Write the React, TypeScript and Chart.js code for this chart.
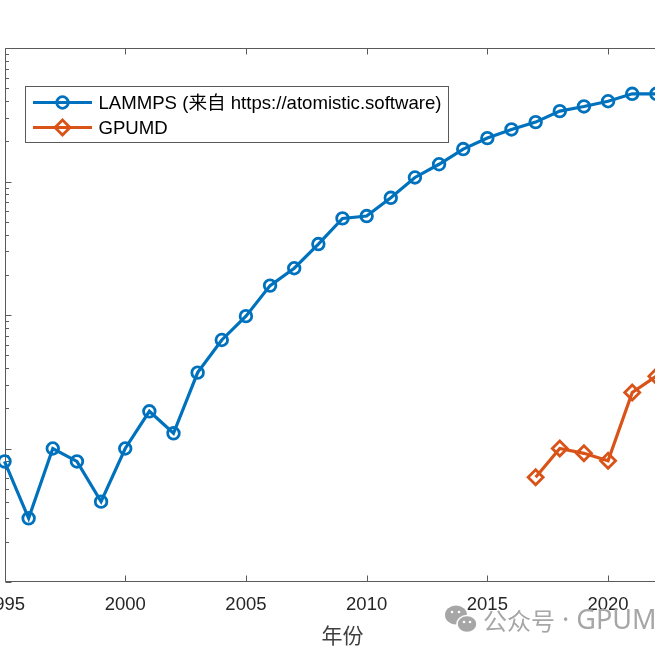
import React, { useEffect, useRef } from "react";
import { Chart, registerables } from "chart.js";

Chart.register(...registerables);

const years = [
  1995, 1996, 1997, 1998, 1999, 2000, 2001, 2002, 2003, 2004, 2005, 2006, 2007, 2008,
  2009, 2010, 2011, 2012, 2013, 2014, 2015, 2016, 2017, 2018, 2019, 2020, 2021, 2022,
];
const lammps = [
  8, 3, 10, 8, 4, 10, 19, 13, 37, 65, 98, 166, 224, 340,
  529, 551, 755, 1072, 1346, 1750, 2114, 2455, 2785, 3366, 3648, 3993, 4537, 4537,
];
const gpumdYears = [2017, 2018, 2019, 2020, 2021, 2022];
const gpumd = [6.1, 10, 9.2, 8.1, 26.3, 34.8];

const xTickValues = [1995, 2000, 2005, 2010, 2015, 2020];
const xMin = 1995;
const xMax = 2023;
const yMin = 1;
const yMax = 10000;

const seriesLabels = ["LAMMPS (来自 https://atomistic.software)", "GPUMD"];
const xTitle = "年份";
const watermarkCJK = "公众号";
const watermarkLatin = " · GPUMD";

const BLUE = "#0072BD";
const ORANGE = "#D95319";
const AXIS = "#5a5a5a";

const W = 700;
const H = 655;

function drawMarker(ctx: CanvasRenderingContext2D, kind: string, x: number, y: number, color: string) {
  ctx.save();
  ctx.strokeStyle = color;
  ctx.lineWidth = 2.8;
  ctx.beginPath();
  if (kind === "circle") {
    ctx.arc(x, y, 5.8, 0, Math.PI * 2);
  } else {
    const r = 7.5;
    ctx.moveTo(x - r, y);
    ctx.lineTo(x, y - r);
    ctx.lineTo(x + r, y);
    ctx.lineTo(x, y + r);
    ctx.closePath();
  }
  ctx.stroke();
  ctx.restore();
}

const framePlugin = {
  id: "matlabFrame",
  beforeDatasetsDraw(chart: any) {
    const ctx: CanvasRenderingContext2D = chart.ctx;
    const { left, right, top, bottom } = chart.chartArea;
    const xs = chart.scales.x;
    const ys = chart.scales.y;
    ctx.save();
    ctx.strokeStyle = AXIS;
    ctx.lineWidth = 1;
    const L = Math.round(left) + 0.5;
    const R = Math.round(right) - 0.5;
    const T = Math.round(top) + 0.5;
    const B = Math.round(bottom) - 0.5;
    ctx.beginPath();
    ctx.moveTo(L, T);
    ctx.lineTo(R, T);
    ctx.lineTo(R, B);
    ctx.lineTo(L, B);
    ctx.closePath();
    ctx.stroke();
    ctx.beginPath();
    for (const v of xTickValues) {
      const px = Math.round(xs.getPixelForValue(v)) + 0.5;
      ctx.moveTo(px, T);
      ctx.lineTo(px, T + 6);
      ctx.moveTo(px, B);
      ctx.lineTo(px, B - 6);
    }
    for (let d = 0; d < 4; d++) {
      for (let k = 1; k <= 9; k++) {
        const v = k * Math.pow(10, d);
        const py = Math.round(ys.getPixelForValue(v)) + 0.5;
        const len = k === 1 ? 6 : 3.5;
        ctx.moveTo(L, py);
        ctx.lineTo(L + len, py);
        ctx.moveTo(R, py);
        ctx.lineTo(R - len, py);
      }
    }
    ctx.stroke();
    ctx.restore();
  },
  afterDatasetsDraw(chart: any) {
    const ctx: CanvasRenderingContext2D = chart.ctx;
    ctx.save();
    // legend
    const bx = 25.5, by = 86.5, bw = 423, bh = 56;
    ctx.fillStyle = "#ffffff";
    ctx.fillRect(bx, by, bw, bh);
    ctx.strokeStyle = AXIS;
    ctx.lineWidth = 1;
    ctx.strokeRect(bx, by, bw, bh);
    const rows = [
      { y: 102.5, color: BLUE, kind: "circle", text: seriesLabels[0] },
      { y: 127.5, color: ORANGE, kind: "diamond", text: seriesLabels[1] },
    ];
    for (const r of rows) {
      ctx.strokeStyle = r.color;
      ctx.lineWidth = 3.2;
      ctx.beginPath();
      ctx.moveTo(33, r.y);
      ctx.lineTo(92, r.y);
      ctx.stroke();
      drawMarker(ctx, r.kind, 62.5, r.y, r.color);
      ctx.fillStyle = "#000000";
      ctx.font = '18.6px "Liberation Sans", Arial, "Noto Sans CJK SC", sans-serif';
      ctx.textBaseline = "middle";
      ctx.textAlign = "left";
      ctx.fillText(r.text, 98.5, r.y + 1);
    }
    // watermark
    ctx.fillStyle = "#a6a6a6";
    ctx.beginPath();
    ctx.ellipse(456, 615, 11, 9.5, 0, 0, Math.PI * 2);
    ctx.fill();
    ctx.strokeStyle = "#ffffff";
    ctx.lineWidth = 1.5;
    ctx.beginPath();
    ctx.ellipse(467, 624, 10, 8.5, 0, 0, Math.PI * 2);
    ctx.fill();
    ctx.stroke();
    ctx.fillStyle = "#ffffff";
    for (const [ex, ey] of [[452, 612], [459, 612], [464, 622], [470, 622]]) {
      ctx.beginPath();
      ctx.arc(ex, ey, 1.3, 0, Math.PI * 2);
      ctx.fill();
    }
    ctx.fillStyle = "#a6a6a6";
    ctx.textBaseline = "middle";
    ctx.textAlign = "left";
    ctx.font = '24px "Noto Sans CJK SC", sans-serif';
    ctx.fillText(watermarkCJK, 483, 621);
    ctx.font = '27px "Noto Sans", sans-serif';
    ctx.fillText(watermarkLatin, 555, 621);
    ctx.restore();
  },
};

export default function App() {
  const ref = useRef<HTMLCanvasElement | null>(null);
  useEffect(() => {
    if (!ref.current) return;
    const chart = new Chart(ref.current, {
      type: "line",
      data: {
        datasets: [
          {
            label: seriesLabels[0],
            data: years.map((y, i) => ({ x: y, y: lammps[i] })),
            borderColor: BLUE,
            backgroundColor: "transparent",
            borderWidth: 3.2,
            pointStyle: "circle",
            pointRadius: 5.8,
            pointBorderWidth: 2.8,
            pointBorderColor: BLUE,
            pointBackgroundColor: "transparent",
            clip: false as any,
          },
          {
            label: seriesLabels[1],
            data: gpumdYears.map((y, i) => ({ x: y, y: gpumd[i] })),
            borderColor: ORANGE,
            backgroundColor: "transparent",
            borderWidth: 3.2,
            pointStyle: "rectRot",
            pointRadius: 7.5,
            pointBorderWidth: 2.8,
            pointBorderColor: ORANGE,
            pointBackgroundColor: "transparent",
            clip: false as any,
          },
        ],
      },
      options: {
        animation: false,
        responsive: false,
        devicePixelRatio: 1,
        layout: { autoPadding: false, padding: { left: 4.5, top: 48, right: W - 680.5, bottom: 0 } },
        plugins: { legend: { display: false }, tooltip: { enabled: false } },
        scales: {
          x: {
            type: "linear",
            min: xMin,
            max: xMax,
            grid: { display: false, drawTicks: false },
            border: { display: false },
            afterBuildTicks: (s: any) => {
              s.ticks = xTickValues.map((v) => ({ value: v }));
            },
            afterFit: (s: any) => {
              s.height = 73;
              s.paddingLeft = 0;
              s.paddingRight = 0;
            },
            ticks: {
              color: "#262626",
              padding: 12,
              maxRotation: 0,
              autoSkip: false,
              font: { family: '"Liberation Sans", Arial, sans-serif', size: 18.5 },
              callback: (v: any) => String(v),
            },
            title: {
              display: true,
              text: xTitle,
              color: "#404040",
              font: { family: '"Noto Sans CJK SC", sans-serif', size: 21 },
              padding: { top: 0, bottom: 7 },
            },
          },
          y: {
            type: "logarithmic",
            min: yMin,
            max: yMax,
            grid: { display: false, drawTicks: false },
            border: { display: false },
            ticks: { display: false },
            afterFit: (s: any) => {
              s.width = 0;
            },
          },
        },
      },
      plugins: [framePlugin],
    });
    return () => chart.destroy();
  }, []);
  return (
    <div
      style={{
        position: "fixed",
        left: 0,
        top: 0,
        width: 655,
        height: 655,
        overflow: "hidden",
        background: "#ffffff",
      }}
    >
      <canvas ref={ref} width={W} height={H} style={{ display: "block", width: W, height: H }} />
    </div>
  );
}
